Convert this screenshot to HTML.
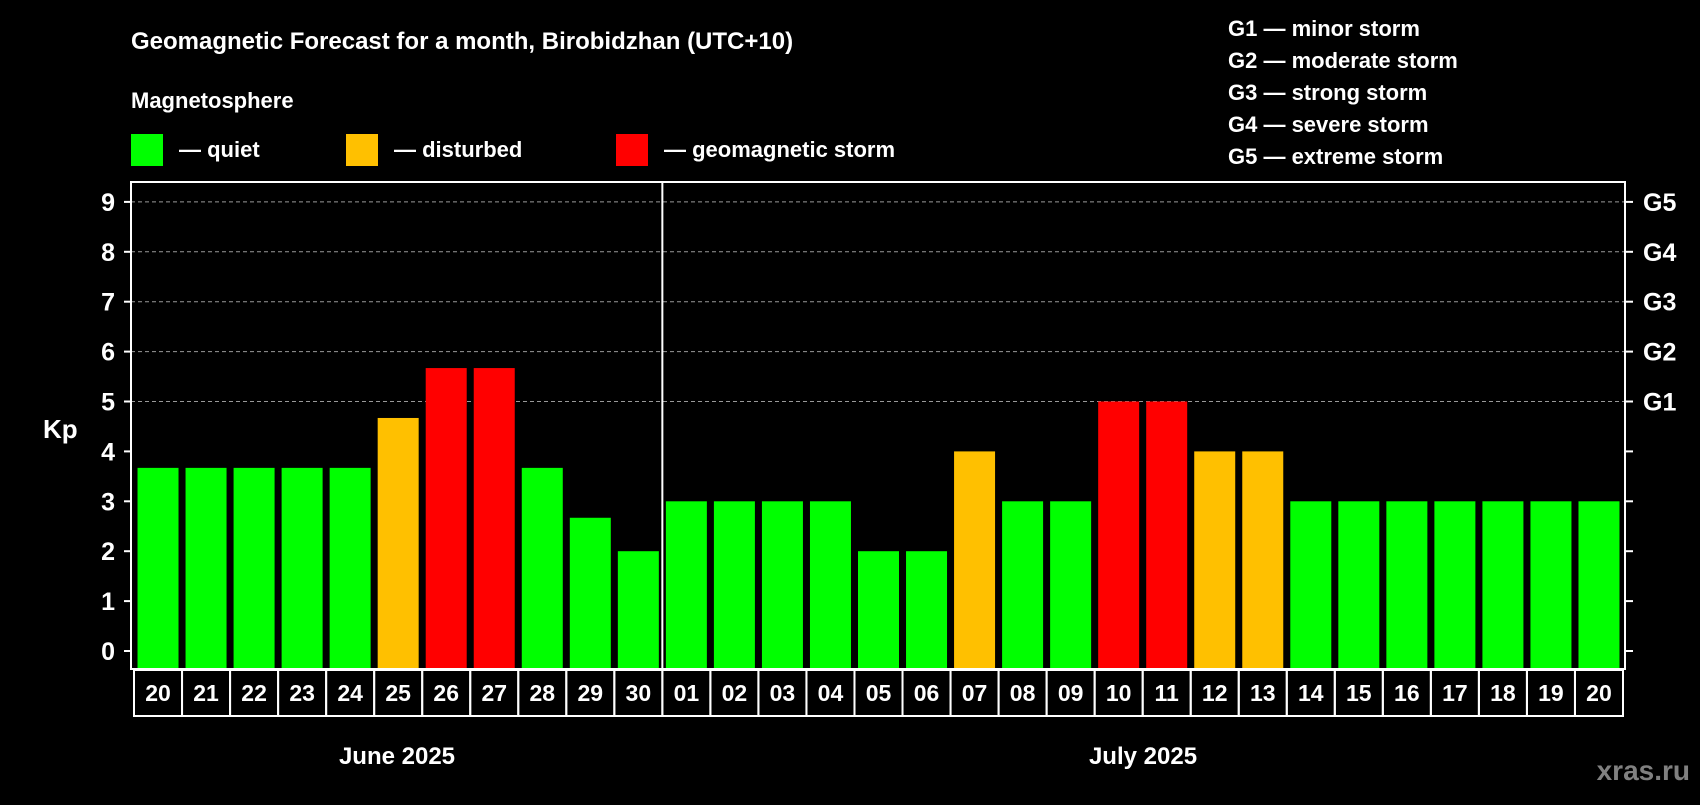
<!DOCTYPE html>
<html><head><meta charset="utf-8"><style>
body{margin:0;background:#000;width:1700px;height:800px;overflow:hidden}
text{font-family:"Liberation Sans",sans-serif;font-weight:bold;fill:#fff}
</style></head><body>
<svg id="c" width="1700" height="800">
<text x="131" y="49" font-size="24">Geomagnetic Forecast for a month, Birobidzhan (UTC+10)</text>
<text x="131" y="108" font-size="22">Magnetosphere</text>
<rect x="131" y="134" width="32" height="32" fill="#00ff00"/>
<text x="179" y="157" font-size="22">— quiet</text>
<rect x="346" y="134" width="32" height="32" fill="#ffc000"/>
<text x="394" y="157" font-size="22">— disturbed</text>
<rect x="616" y="134" width="32" height="32" fill="#ff0000"/>
<text x="664" y="157" font-size="22">— geomagnetic storm</text>
<g font-size="22">
<text x="1228" y="36">G1 — minor storm</text>
<text x="1228" y="68">G2 — moderate storm</text>
<text x="1228" y="100">G3 — strong storm</text>
<text x="1228" y="132">G4 — severe storm</text>
<text x="1228" y="164">G5 — extreme storm</text>
</g>
<text x="43" y="438" font-size="26">Kp</text>
<text x="397" y="764" font-size="24" text-anchor="middle">June 2025</text>
<text x="1143" y="764" font-size="24" text-anchor="middle">July 2025</text>
<text x="1690" y="780" font-size="28" text-anchor="end" style="fill:#808080">xras.ru</text>
<g id="plot"></g>
</svg>
<script>
const days=["20","21","22","23","24","25","26","27","28","29","30","01","02","03","04","05","06","07","08","09","10","11","12","13","14","15","16","17","18","19","20"];
const kp=[3.67,3.67,3.67,3.67,3.67,4.67,5.67,5.67,3.67,2.67,2,3,3,3,3,2,2,4,3,3,5,5,4,4,3,3,3,3,3,3,3];
const yTicks=[0,1,2,3,4,5,6,7,8,9];
const gLabels=["G1","G2","G3","G4","G5"];
const gLevels=[5,6,7,8,9];
const NS="http://www.w3.org/2000/svg";
const g=document.getElementById('plot');
const L=131,R=1625,T=182,B=669,bx0=134,bx1=1623;
const y=v=>651-v*49.9;
const slot=(bx1-bx0)/days.length;
const xc=i=>bx0+slot*(i+0.5);
function mk(t,a){const e=document.createElementNS(NS,t);for(const k in a)e.setAttribute(k,a[k]);g.appendChild(e);return e;}
const col=v=>v>=5?"#ff0000":v>=4?"#ffc000":"#00ff00";
gLevels.forEach(v=>{const e=mk('line',{x1:L,x2:R,y1:y(v),y2:y(v),stroke:'#999','stroke-dasharray':'4 3','stroke-width':1});

});
kp.forEach((v,i)=>{const e=mk('rect',{x:xc(i)-20.5,y:y(v),width:41,height:B-1-y(v),fill:col(v)});

});
mk('rect',{x:L,y:T,width:R-L,height:B-T,fill:'none',stroke:'#fff','stroke-width':2});
const sep=mk('line',{x1:bx0+slot*11,x2:bx0+slot*11,y1:T,y2:B,stroke:'#fff','stroke-width':2});


yTicks.forEach(v=>{mk('line',{x1:L-7,x2:L,y1:y(v),y2:y(v),stroke:'#fff','stroke-width':2});
mk('line',{x1:R,x2:R+8,y1:y(v),y2:y(v),stroke:'#fff','stroke-width':2});
const t=mk('text',{x:115,y:y(v)+9,'font-size':25,'text-anchor':'end'});t.textContent=v;

});
gLabels.forEach((s,i)=>{const t=mk('text',{x:1643,y:y(gLevels[i])+9,'font-size':25});t.textContent=s;

});
days.forEach((d,i)=>{const r=mk('rect',{x:bx0+slot*i,y:670,width:slot,height:46,fill:'none',stroke:'#fff','stroke-width':2});


const t=mk('text',{x:xc(i),y:701,'font-size':23,'text-anchor':'middle'});t.textContent=d;

});
</script>
</body></html>
